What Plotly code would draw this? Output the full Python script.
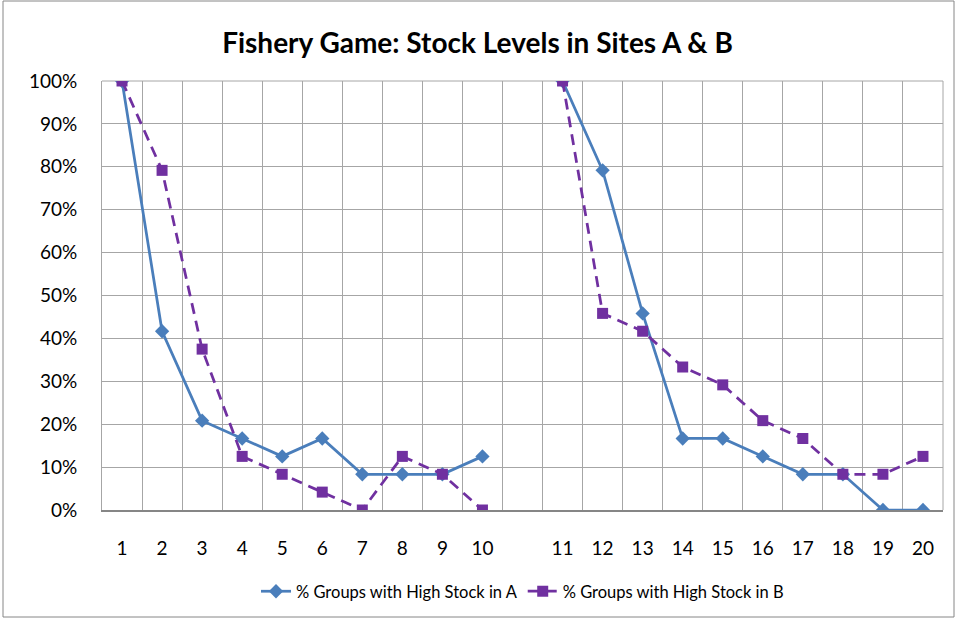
import plotly.graph_objects as go

# round labels; a blank slot separates site sessions 1-10 and 11-20
rounds = [str(i) for i in range(1, 11)] + [""] + [str(i) for i in range(11, 21)]

# 24 groups -> steps of 1/24
stock_a = [1.0, 0.4167, 0.2083, 0.1667, 0.125, 0.1667, 0.0833, 0.0833, 0.0833, 0.125,
           None,
           1.0, 0.7917, 0.4583, 0.1667, 0.1667, 0.125, 0.0833, 0.0833, 0.0, 0.0]
stock_b = [1.0, 0.7917, 0.375, 0.125, 0.0833, 0.0417, 0.0, 0.125, 0.0833, 0.0,
           None,
           1.0, 0.4583, 0.4167, 0.3333, 0.2917, 0.2083, 0.1667, 0.0833, 0.0833, 0.125]

x = list(range(1, len(rounds) + 1))
tickvals = [xi for xi, r in zip(x, rounds) if r]
ticktext = [r for r in rounds if r]

fig = go.Figure()
fig.add_trace(go.Scatter(
    x=x, y=stock_a, mode="lines+markers", name="% Groups with High Stock in A",
    line=dict(color="#4A7EBB", width=2.75),
    marker=dict(symbol="diamond", size=11, color="#4A7EBB"),
    connectgaps=False,
))
fig.add_trace(go.Scatter(
    x=x, y=stock_b, mode="lines+markers", name="% Groups with High Stock in B",
    line=dict(color="#7030A0", width=2.75, dash="11px,7px"),
    marker=dict(symbol="square", size=11, color="#7030A0"),
    connectgaps=False,
))

W, H = 955, 618
ml, mr, mt, mb = 102, 12, 81, 108
pw, ph = W - ml - mr, H - mt - mb

fig.update_layout(
    width=W, height=H,
    margin=dict(l=ml, r=mr, t=mt, b=mb, autoexpand=False),
    paper_bgcolor="white", plot_bgcolor="white",
    font=dict(family="Lato, Arial, sans-serif", color="black"),
    title=dict(text="<b>Fishery Game: Stock Levels in Sites A & B</b>",
               x=0.5, xanchor="center", y=0.93, yanchor="middle",
               font=dict(size=28)),
    showlegend=True,
    legend=dict(orientation="h", x=0.5, xanchor="center", y=-0.19, yanchor="middle",
                font=dict(size=16.5), tracegroupgap=0),
    xaxis=dict(
        range=[0.5, len(rounds) + 0.5], tickvals=tickvals, ticktext=ticktext,
        tickfont=dict(size=19), showgrid=False, zeroline=False,
        showline=True, linecolor="#868686", linewidth=1.5, mirror=False,
        ticks="", ticklen=0, ticklabelstandoff=20,
        minor=dict(tick0=0.5, dtick=1, showgrid=True, gridcolor="#A6A6A6", gridwidth=1),
    ),
    yaxis=dict(
        range=[0, 1], dtick=0.1, tickformat=".0%", tickfont=dict(size=19),
        showgrid=True, gridcolor="#A6A6A6", gridwidth=1, zeroline=False,
        showline=True, linecolor="#A6A6A6", linewidth=1, ticks="",
        ticklabelstandoff=20,
    ),
    shapes=[
        # outer chart border
        dict(type="rect", xref="paper", yref="paper",
             x0=(-ml + 3) / pw, x1=(pw + mr - 1) / pw,
             y0=(-mb + 1) / ph, y1=(ph + mt - 1) / ph,
             line=dict(color="#868686", width=1), layer="below"),
        # plot area top/right edges
        dict(type="line", xref="paper", yref="paper", x0=0, x1=1, y0=1, y1=1,
             line=dict(color="#A6A6A6", width=1), layer="below"),
        dict(type="line", xref="paper", yref="paper", x0=1, x1=1, y0=0, y1=1,
             line=dict(color="#A6A6A6", width=1), layer="below"),
    ],
)

fig.write_html("out.html", config={"displayModeBar": False},
               post_script="document.body.style.margin='0';")
